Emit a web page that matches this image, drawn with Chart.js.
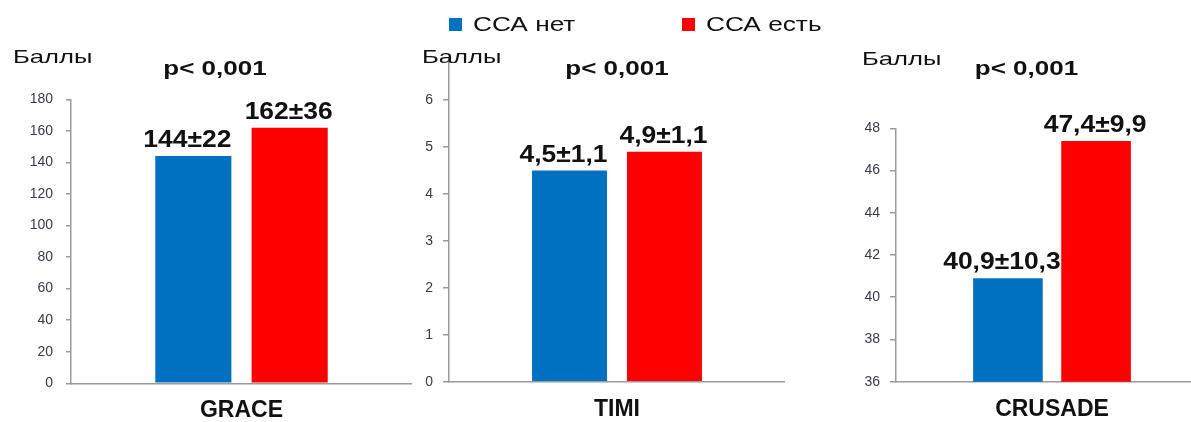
<!DOCTYPE html>
<html>
<head>
<meta charset="utf-8">
<script src="https://cdn.jsdelivr.net/npm/chart.js@4.4.1/dist/chart.umd.min.js"></script>
<style>
    html, body { margin: 0; padding: 0; background: #fff; width: 1191px; height: 422px; overflow: hidden; position: relative; }
    canvas { position: absolute; top: 0; }
    .legend { position: absolute; top: 12px; font-family: "Liberation Sans", Arial, sans-serif; font-size: 21px; color: #111; white-space: nowrap; }
    .legend .sw { position: absolute; top: 6px; width: 13px; height: 13px; }
    .legend .txt { position: absolute; left: 24px; top: 0; transform: scaleX(1.25); transform-origin: left top; }
</style>
</head>
<body>
<canvas id="c0" width="412" height="422" style="left:0px"></canvas>
<canvas id="c1" width="373" height="422" style="left:412px"></canvas>
<canvas id="c2" width="423" height="422" style="left:785px"></canvas>

<div class="legend" style="left:449px"><span class="sw" style="background:#0070c0"></span><span class="txt" id="lg0"></span></div>
<div class="legend" style="left:682px"><span class="sw" style="background:#ff0000"></span><span class="txt" id="lg1"></span></div>

<script>
// данные
const shkaly = ['GRACE', 'TIMI', 'CRUSADE'];
const gruppy = ['ССА нет', 'ССА есть'];
const srednieNet = [144, 4.5, 40.9];
const srednieEst = [162, 4.9, 47.4];
const sdNet = [22, 1.1, 10.3];
const sdEst = [36, 1.1, 9.9];
const pZnach = ['p< 0,001', 'p< 0,001', 'p< 0,001'];
const osY = 'Баллы';
const yMin = [0, 0, 36];
const yMax = [180, 6.9, 48];
const yShag = [20, 1, 2];

const BLUE = '#0070c0';
const RED = '#ff0000';
const AXIS = '#9a9a9a';

// позиции панелей (в координатах canvas)
const paneli = [
    { top: 99.3, bottom: 383.3, axisW: 71, tickLen: 5, tickPad: 13, unitX: 13, unitY: 63, pX: 215 },
    { top: 58, bottom: 381.7, axisW: 37, tickLen: 6, tickPad: 10, unitX: 10, unitY: 63, pX: 205 },
    { top: 128.3, bottom: 381.7, axisW: 111, tickLen: 6, tickPad: 10, unitX: 77, unitY: 65, pX: 241.5 }
];

document.getElementById('lg0').textContent = gruppy[0];
document.getElementById('lg1').textContent = gruppy[1];

function fmt(v) {
    return String(v).replace('.', ',');
}

function textStretch(ctx, text, x, y, font, sx, align) {
    ctx.save();
    ctx.font = font;
    ctx.fillStyle = '#111';
    ctx.textAlign = align;
    ctx.textBaseline = 'alphabetic';
    ctx.translate(x, y);
    ctx.scale(sx, 1);
    ctx.fillText(text, 0, 0);
    ctx.restore();
}

// подписи над столбиками + "Баллы" + p
const podpisi = {
    id: 'podpisi',
    afterDraw(chart) {
        const i = chart.options.plugins.podpisi.idx;
        const p = paneli[i];
        const ctx = chart.ctx;
        const sds = [sdNet[i], sdEst[i]];
        chart.data.datasets.forEach((ds, d) => {
            const bar = chart.getDatasetMeta(d).data[0];
            const txt = fmt(ds.data[0]) + '±' + fmt(sds[d]);
            const dx = d === 0 ? -6 : -1; // в оригинале левая подпись чуть сдвинута
            textStretch(ctx, txt, bar.x + dx, bar.y - 9, 'bold 23px "Liberation Sans", Arial', 1.15, 'center');
        });
        textStretch(ctx, pZnach[i], p.pX, 75, 'bold 20px "Liberation Sans", Arial', 1.3, 'center');
        textStretch(ctx, osY, p.unitX, p.unitY, '19px "Liberation Sans", Arial', 1.35, 'left');
    }
};

function initPanel(i) {
    const p = paneli[i];
    const ctx = document.getElementById('c' + i).getContext('2d');
    new Chart(ctx, {
        type: 'bar',
        data: {
            labels: [shkaly[i]],
            datasets: [
                { label: gruppy[0], data: [srednieNet[i]], backgroundColor: BLUE },
                { label: gruppy[1], data: [srednieEst[i]], backgroundColor: RED }
            ]
        },
        options: {
            responsive: false,
            animation: false,
            layout: { padding: { top: p.top, left: 0, right: 0, bottom: 0 } },
            datasets: { bar: { categoryPercentage: 0.565, barPercentage: 0.79 } },
            plugins: {
                legend: { display: false },
                tooltip: { enabled: false },
                podpisi: { idx: i }
            },
            scales: {
                x: {
                    grid: { display: true, drawOnChartArea: false, drawTicks: false },
                    border: { color: AXIS, width: 1.5 },
                    ticks: {
                        color: '#111',
                        padding: 14,
                        font: { family: '"Liberation Sans", Arial', size: 23, weight: 'bold' }
                    },
                    afterFit: s => { s.height = 422 - p.bottom; }
                },
                y: {
                    min: yMin[i],
                    max: yMax[i],
                    grid: { drawOnChartArea: false, drawTicks: true, tickLength: p.tickLen, tickColor: AXIS, lineWidth: 1.5 },
                    border: { color: AXIS, width: 1.5 },
                    ticks: {
                        stepSize: yShag[i],
                        color: '#3a3a4a',
                        padding: p.tickPad,
                        font: { family: '"Liberation Sans", Arial', size: 14 }
                    },
                    afterBuildTicks: s => {
                        s.ticks = s.ticks.filter(t => Math.abs(((t.value - yMin[i]) / yShag[i]) - Math.round((t.value - yMin[i]) / yShag[i])) < 1e-6);
                    },
                    afterFit: s => { s.width = p.axisW; }
                }
            }
        },
        plugins: [podpisi]
    });
}

document.addEventListener('DOMContentLoaded', () => {
    shkaly.forEach((_, i) => initPanel(i));
});
</script>
</body>
</html>
